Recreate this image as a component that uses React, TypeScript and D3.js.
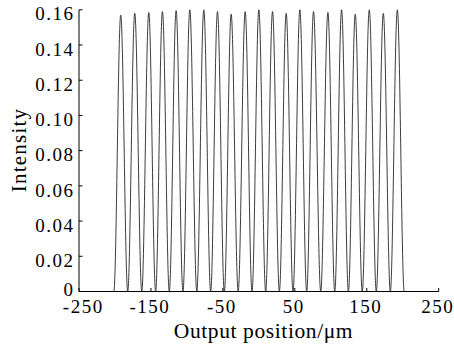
import React from "react";
import * as d3 from "d3";

const xTicks = [-250, -150, -50, 50, 150, 250];
const yTicks = [0, 0.02, 0.04, 0.06, 0.08, 0.1, 0.12, 0.14, 0.16];
const yTickLabels = ["0", "0.02", "0.04", "0.06", "0.08", "0.10", "0.12", "0.14", "0.16"];

// Peak centres (µm) and peak intensities
const peakCenters = [
  -192, -172.5, -153, -134, -115, -96, -76.5, -57.5, -38.5, -19, 0,
  19, 38, 57, 76, 96, 115, 134, 153.5, 173, 192.5,
];
const peakHeights = [
  0.157, 0.158, 0.1585, 0.159, 0.1595, 0.16, 0.16, 0.159, 0.1575, 0.159, 0.16,
  0.159, 0.158, 0.16, 0.159, 0.1585, 0.16, 0.1575, 0.16, 0.158, 0.16,
];
const edgeHalfWidth = 9.6;

const W = 454;
const H = 344;
const FONT = "'Liberation Serif', 'Times New Roman', serif";

function buildCurve(): [number, number][] {
  const pts: [number, number][] = [];
  const n = peakCenters.length;
  for (let xv = -250; xv <= 250.0001; xv += 0.2) {
    let k = 0;
    let best = Infinity;
    for (let i = 0; i < n; i++) {
      const d = Math.abs(xv - peakCenters[i]);
      if (d < best) {
        best = d;
        k = i;
      }
    }
    const c = peakCenters[k];
    let hw: number;
    if (xv < c) hw = k > 0 ? (c - peakCenters[k - 1]) / 2 : edgeHalfWidth;
    else hw = k < n - 1 ? (peakCenters[k + 1] - c) / 2 : edgeHalfWidth;
    const d = Math.abs(xv - c);
    let v = 0;
    if (d < hw) {
      const cv = Math.cos((Math.PI / 2) * (d / hw));
      v = peakHeights[k] * cv * cv;
    }
    pts.push([xv, v]);
  }
  return pts;
}

export default function App() {
  const x = d3.scaleLinear().domain([-250, 250]).range([79, 438.7]);
  const y = d3.scaleLinear().domain([0, 0.16]).range([291.5, 9.8]);
  const data = buildCurve();
  const line = d3
    .line<[number, number]>()
    .x((d) => x(d[0]))
    .y((d) => y(d[1]));

  const x0 = x(-250);
  const x1 = x(250);
  const yb = y(0);
  const yt = y(0.16);
  const tickLS = 1.5;

  return (
    <svg
      width={W}
      height={H}
      style={{ position: "absolute", left: 0, top: 0, background: "#fff" }}
    >
      <rect x={0} y={0} width={W} height={H} fill="#fff" />
      <path d={line(data) || ""} fill="none" stroke="#262626" strokeWidth={0.9} />
      {/* axes */}
      <line x1={x0} y1={yb} x2={x1} y2={yb} stroke="#000" strokeWidth={1} />
      <line x1={x0} y1={yb} x2={x0} y2={yt} stroke="#000" strokeWidth={1} />
      {yTicks.map((t, i) => (
        <g key={"y" + i}>
          <line x1={x0} x2={x0 + 3.5} y1={y(t)} y2={y(t)} stroke="#000" strokeWidth={1} />
          <text
            x={73 + tickLS}
            y={y(t) + (i === 0 ? -2.5 : 4)}
            dy="0.35em"
            textAnchor="end"
            fontFamily={FONT}
            fontSize={19}
            letterSpacing={tickLS}
            fill="#000"
          >
            {yTickLabels[i]}
          </text>
        </g>
      ))}
      {xTicks.map((t, i) => (
        <g key={"x" + i}>
          <line x1={x(t)} x2={x(t)} y1={yb} y2={yb - 3.5} stroke="#000" strokeWidth={1} />
          <text
            x={x(t) + tickLS / 2 + (i === 0 ? 3.5 : -1.8)}
            y={313.3}
            textAnchor="middle"
            fontFamily={FONT}
            fontSize={19}
            letterSpacing={tickLS}
            fill="#000"
          >
            {String(t)}
          </text>
        </g>
      ))}
      <text
        x={263.5}
        y={338.3}
        textAnchor="middle"
        fontFamily={FONT}
        fontSize={21.5}
        letterSpacing={0.6}
        fill="#000"
      >
        Output position/μm
      </text>
      <text
        transform={`translate(26,150) rotate(-90)`}
        textAnchor="middle"
        fontFamily={FONT}
        fontSize={21}
        letterSpacing={1.2}
        fill="#000"
      >
        Intensity
      </text>
    </svg>
  );
}
